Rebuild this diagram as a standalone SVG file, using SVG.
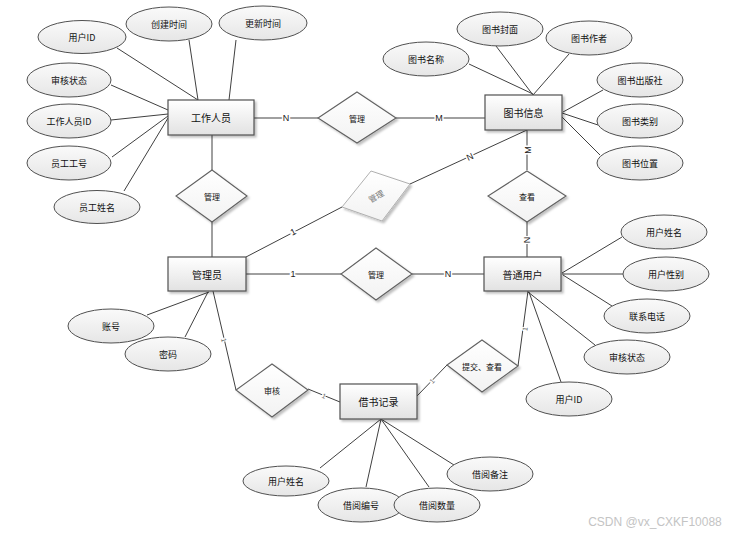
<svg xmlns="http://www.w3.org/2000/svg" width="738" height="536" viewBox="0 0 738 536">
<defs>
<linearGradient id="gRect" x1="0" y1="0" x2="0" y2="1"><stop offset="0" stop-color="#ffffff"/><stop offset="1" stop-color="#e2e2e2"/></linearGradient>
<linearGradient id="gEll" x1="0" y1="0" x2="0" y2="1"><stop offset="0" stop-color="#fafafa"/><stop offset="1" stop-color="#e6e6e6"/></linearGradient>
<linearGradient id="gDia" x1="0" y1="0" x2="0" y2="1"><stop offset="0" stop-color="#ffffff"/><stop offset="1" stop-color="#f2f2f2"/></linearGradient>
<filter id="sh" x="-20%" y="-20%" width="150%" height="150%"><feDropShadow dx="2" dy="2" stdDeviation="1.2" flood-color="#000" flood-opacity="0.25"/></filter>
</defs>
<style>
.ent{fill:url(#gRect);stroke:#505050;stroke-width:1.2;filter:url(#sh)}
.att{fill:url(#gEll);stroke:#505050;stroke-width:1}
.rel{fill:url(#gDia);stroke:#606060;stroke-width:1.1;filter:url(#sh)}
.relg{fill:url(#gDia);stroke:#b0b0b0;stroke-width:1;filter:url(#sh)}
text{font-family:"Noto Sans CJK SC","Liberation Sans",sans-serif;text-anchor:middle;dominant-baseline:central;fill:#111}
.te{font-size:10px}
.ta{font-size:9px}
.tr{font-size:8px}
.card{font-family:"Liberation Sans","Noto Sans CJK SC",sans-serif;font-size:9px;fill:#222;stroke:#fff;stroke-width:3;paint-order:stroke}
.cards{font-family:"Liberation Sans",sans-serif;font-size:7px;fill:#666;stroke:#fff;stroke-width:2;paint-order:stroke}
.ln{stroke:#404040;stroke-width:1;fill:none}
.lg{stroke:#808080;stroke-width:1.4;fill:none}
</style>
<rect width="738" height="536" fill="#fff"/>
<g id="connectors">
<!-- 工作人员 attributes -->
<line class="ln" x1="117" y1="48" x2="198" y2="100"/>
<line class="ln" x1="189" y1="40" x2="198" y2="100"/>
<line class="ln" x1="236" y1="40" x2="229" y2="100"/>
<line class="ln" x1="111" y1="85" x2="168" y2="110"/>
<line class="ln" x1="111" y1="120" x2="168" y2="114"/>
<line class="ln" x1="112" y1="157" x2="168" y2="116"/>
<line class="ln" x1="124" y1="191" x2="168" y2="118"/>
<!-- 工作人员 - 管理 - 图书信息 -->
<line class="lg" x1="254" y1="118" x2="318" y2="118"/>
<line class="lg" x1="396" y1="118" x2="485" y2="118"/>
<!-- 工作人员 - 管理 - 管理员 -->
<line class="ln" x1="212" y1="135" x2="212" y2="170"/>
<line class="ln" x1="212" y1="222" x2="212" y2="257"/>
<!-- 图书信息 attributes -->
<line class="ln" x1="469" y1="64" x2="533" y2="94"/>
<line class="ln" x1="496" y1="46" x2="533" y2="95"/>
<line class="ln" x1="569" y1="54" x2="533" y2="95"/>
<line class="ln" x1="603" y1="90" x2="563" y2="112"/>
<line class="ln" x1="598" y1="125" x2="562" y2="113"/>
<line class="ln" x1="600" y1="155" x2="562" y2="117"/>
<!-- 图书信息 - 查看 - 普通用户 -->
<line class="ln" x1="527" y1="130" x2="527" y2="170"/>
<line class="ln" x1="527" y1="222" x2="527" y2="257"/>
<!-- 图书信息 - 管理(gray) - 管理员 -->
<line class="ln" x1="527" y1="130" x2="410" y2="184"/>
<line class="ln" x1="342" y1="207" x2="246" y2="257"/>
<!-- 管理员 - 管理 - 普通用户 -->
<line class="ln" x1="246" y1="274" x2="341" y2="274"/>
<line class="ln" x1="412" y1="274" x2="484" y2="274"/>
<!-- 普通用户 attributes -->
<line class="ln" x1="622" y1="237" x2="562" y2="273"/>
<line class="ln" x1="623" y1="274" x2="562" y2="274"/>
<line class="ln" x1="612" y1="306" x2="563" y2="275"/>
<line class="ln" x1="595" y1="345" x2="528" y2="292"/>
<line class="ln" x1="561" y1="382" x2="529" y2="292"/>
<!-- 普通用户 - 提交、查看 - 借书记录 -->
<line class="ln" x1="528" y1="291" x2="518" y2="366"/>
<line class="ln" x1="447" y1="365" x2="417" y2="396"/>
<!-- 管理员 attributes -->
<line class="ln" x1="147" y1="315" x2="209" y2="292"/>
<line class="ln" x1="185" y1="337" x2="208" y2="292"/>
<!-- 管理员 - 审核 - 借书记录 -->
<line class="ln" x1="213" y1="291" x2="236" y2="390"/>
<line class="ln" x1="308" y1="389" x2="340" y2="402"/>
<!-- 借书记录 attributes -->
<line class="ln" x1="381" y1="419" x2="320" y2="468"/>
<line class="ln" x1="381" y1="419" x2="366" y2="487"/>
<line class="ln" x1="381" y1="419" x2="429" y2="487"/>
<line class="ln" x1="381" y1="419" x2="454" y2="465"/>
<!-- cardinalities -->
<text class="card" x="286" y="118">N</text>
<text class="card" x="439" y="118">M</text>
<text class="card" transform="translate(528,150) rotate(-90)">M</text>
<text class="card" transform="translate(470,157) rotate(-25)">N</text>
<text class="card" transform="translate(293,232) rotate(-27)">1</text>
<text class="card" transform="translate(527,240) rotate(90)">N</text>
<text class="card" x="293" y="274">1</text>
<text class="card" x="448" y="274">N</text>
<text class="cards" transform="translate(224,340) rotate(77)">1</text>
<text class="cards" transform="translate(324,396) rotate(22)">1</text>
<text class="cards" transform="translate(432,381) rotate(-46)">1</text>
<text class="cards" transform="translate(525,329) rotate(-82)">1</text>
</g>
<!-- entities -->
<g id="staff"><rect class="ent" x="168" y="100" width="86" height="35"/><text class="te" x="211" y="117.5">工作人员</text></g>
<g id="bookinfo"><rect class="ent" x="485" y="95" width="77" height="35"/><text class="te" x="523.5" y="112.5">图书信息</text></g>
<g id="admin"><rect class="ent" x="168" y="257" width="78" height="34"/><text class="te" x="207" y="274">管理员</text></g>
<g id="user"><rect class="ent" x="484" y="257" width="77" height="34"/><text class="te" x="522.5" y="274">普通用户</text></g>
<g id="borrow"><rect class="ent" x="340" y="384" width="77" height="35"/><text class="te" x="378.5" y="401.5">借书记录</text></g>
<!-- relations -->
<g id="rel-staff-book"><polygon class="rel" points="357,92 396,118 357,143 318,118"/><text class="tr" x="357" y="118">管理</text></g>
<g id="rel-staff-admin"><polygon class="rel" points="212,170 247,196 212,222 176,196"/><text class="tr" x="212" y="196">管理</text></g>
<g id="rel-admin-book"><polygon class="relg" points="371,171 410,184 382,221 342,207"/><text class="tr" style="fill:#777" transform="translate(376,196) rotate(-30)">管理</text></g>
<g id="rel-view"><polygon class="rel" points="527,171 566,196 527,222 488,196"/><text class="tr" x="527" y="196">查看</text></g>
<g id="rel-admin-user"><polygon class="rel" points="376,248 412,274 376,300 341,274"/><text class="tr" x="376" y="274">管理</text></g>
<g id="rel-submit"><polygon class="rel" points="482,340 518,366 482,392 447,365"/><text class="tr" x="482" y="366">提交、查看</text></g>
<g id="rel-audit"><polygon class="rel" points="272,364 308,390 272,417 236,390"/><text class="tr" x="272" y="390">审核</text></g>
<!-- attributes -->
<g id="a-staff-uid"><ellipse class="att" cx="82" cy="37" rx="44" ry="16.5"/><text class="ta" x="82" y="37">用户ID</text></g>
<g id="a-staff-ctime"><ellipse class="att" cx="169" cy="24" rx="43" ry="17"/><text class="ta" x="169" y="24">创建时间</text></g>
<g id="a-staff-utime"><ellipse class="att" cx="263" cy="23" rx="44" ry="17"/><text class="ta" x="263" y="23">更新时间</text></g>
<g id="a-staff-status"><ellipse class="att" cx="69" cy="80" rx="42" ry="17"/><text class="ta" x="69" y="80">审核状态</text></g>
<g id="a-staff-id"><ellipse class="att" cx="69" cy="121" rx="42" ry="17"/><text class="ta" x="69" y="121">工作人员ID</text></g>
<g id="a-staff-no"><ellipse class="att" cx="69" cy="163" rx="42" ry="17"/><text class="ta" x="69" y="163">员工工号</text></g>
<g id="a-staff-name"><ellipse class="att" cx="97" cy="207" rx="43" ry="16.5"/><text class="ta" x="97" y="207">员工姓名</text></g>
<g id="a-book-name"><ellipse class="att" cx="426" cy="59" rx="43" ry="17"/><text class="ta" x="426" y="59">图书名称</text></g>
<g id="a-book-cover"><ellipse class="att" cx="500" cy="29" rx="43" ry="17"/><text class="ta" x="500" y="29">图书封面</text></g>
<g id="a-book-author"><ellipse class="att" cx="589" cy="38" rx="43" ry="17"/><text class="ta" x="589" y="38">图书作者</text></g>
<g id="a-book-pub"><ellipse class="att" cx="640" cy="80" rx="43" ry="17"/><text class="ta" x="640" y="80">图书出版社</text></g>
<g id="a-book-cat"><ellipse class="att" cx="640" cy="121" rx="43" ry="17"/><text class="ta" x="640" y="121">图书类别</text></g>
<g id="a-book-loc"><ellipse class="att" cx="640" cy="163" rx="43" ry="17"/><text class="ta" x="640" y="163">图书位置</text></g>
<g id="a-user-name"><ellipse class="att" cx="664" cy="232" rx="43" ry="17"/><text class="ta" x="664" y="232">用户姓名</text></g>
<g id="a-user-sex"><ellipse class="att" cx="666" cy="274" rx="43" ry="17"/><text class="ta" x="666" y="274">用户性别</text></g>
<g id="a-user-tel"><ellipse class="att" cx="647" cy="316" rx="43" ry="17"/><text class="ta" x="647" y="316">联系电话</text></g>
<g id="a-user-status"><ellipse class="att" cx="627" cy="357" rx="43" ry="17"/><text class="ta" x="627" y="357">审核状态</text></g>
<g id="a-user-id"><ellipse class="att" cx="569" cy="399" rx="43" ry="17"/><text class="ta" x="569" y="399">用户ID</text></g>
<g id="a-admin-acc"><ellipse class="att" cx="111" cy="326" rx="43" ry="17"/><text class="ta" x="111" y="326">账号</text></g>
<g id="a-admin-pwd"><ellipse class="att" cx="168" cy="354" rx="43" ry="17"/><text class="ta" x="168" y="354">密码</text></g>
<g id="a-br-name"><ellipse class="att" cx="286" cy="481" rx="43" ry="15"/><text class="ta" x="286" y="481">用户姓名</text></g>
<g id="a-br-note"><ellipse class="att" cx="490" cy="474" rx="43" ry="17"/><text class="ta" x="490" y="474">借阅备注</text></g>
<g id="a-br-no"><ellipse class="att" cx="361" cy="505" rx="43" ry="17"/><text class="ta" x="361" y="505">借阅编号</text></g>
<g id="a-br-qty"><ellipse class="att" cx="437" cy="505" rx="43" ry="17"/><text class="ta" x="437" y="505">借阅数量</text></g>
<text x="655" y="522" style="font-family:'Liberation Sans',sans-serif;font-size:12px;fill:#c4c4c4">CSDN @vx_CXKF10088</text>
</svg>
